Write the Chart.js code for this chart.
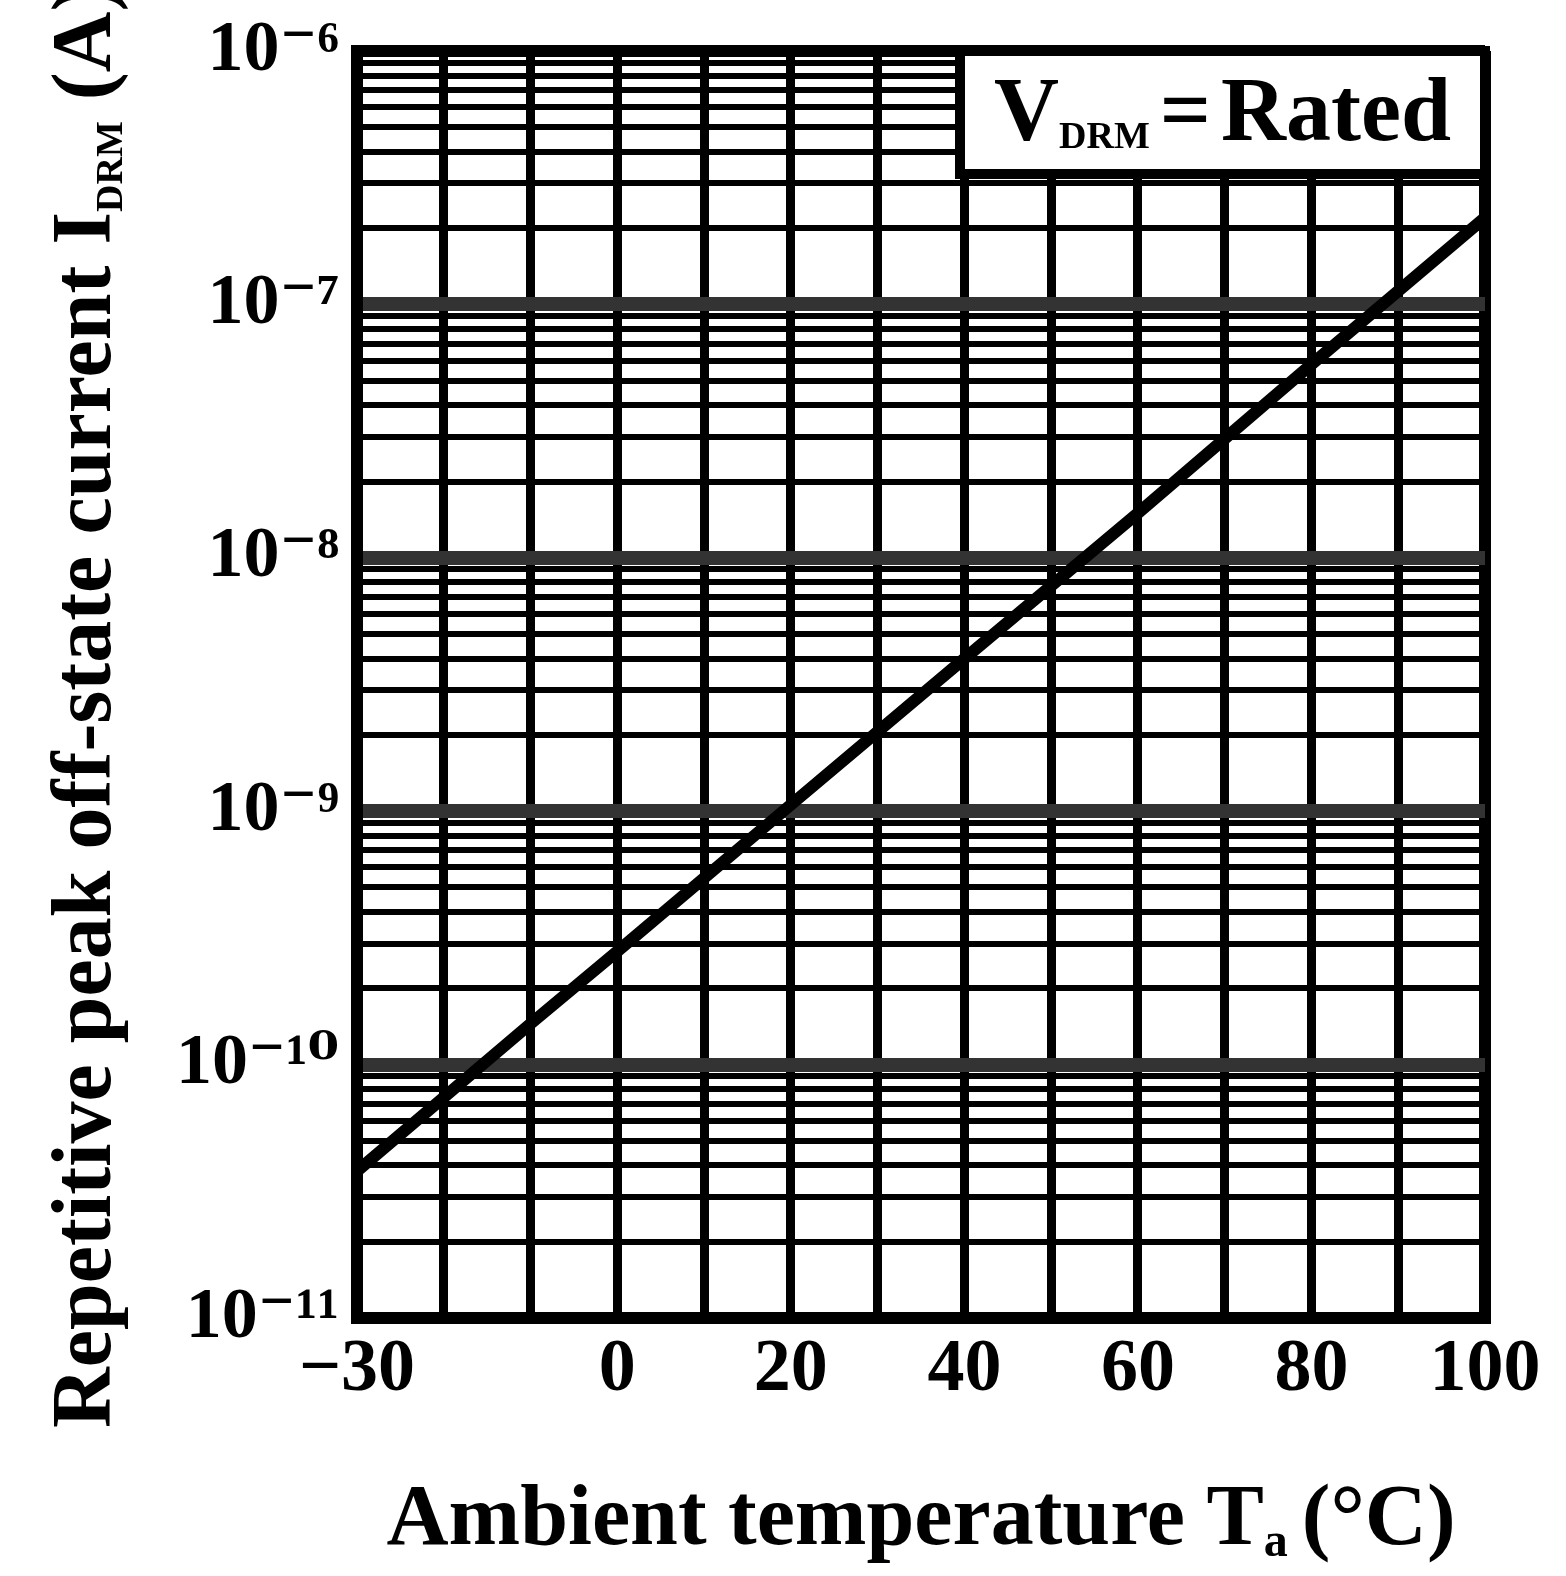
<!DOCTYPE html>
<html>
<head>
<meta charset="utf-8">
<script src="https://cdn.jsdelivr.net/npm/chart.js@4/dist/chart.umd.min.js"></script>
<style>
  html, body { margin: 0; padding: 0; background: #fff; }
  canvas { display: block; }
</style>
</head>
<body>
<canvas id="grafico" width="1566" height="1576"></canvas>
<script>
// Valores: temperatura ambiente (°C) y corriente I_DRM (A)
const temperaturas = [-30, -10, 0, 20, 40, 60, 80, 100];
const corrientes = [3.8e-11, 1.45e-10, 2.8e-10, 1.06e-9, 4.0e-9, 1.5e-8, 5.8e-8, 2.2e-7];

// Etiquetas de los ejes
const ticksX = [-30, 0, 20, 40, 60, 80, 100];
const etiquetasX = ['−30', '0', '20', '40', '60', '80', '100'];
const decadas = [-11, -10, -9, -8, -7, -6];
const etiquetasY = ['10⁻¹¹', '10⁻¹⁰', '10⁻⁹', '10⁻⁸', '10⁻⁷', '10⁻⁶'];
const subdivisiones = [2, 3, 4, 5, 6, 7, 8, 9];

const fuente = "'Liberation Serif', 'DejaVu Serif', serif";

// Dibuja un texto con partes de distinto tamaño (subindices)
function textoMixto(ctx, partes, x, y, alinear) {
  ctx.textBaseline = 'alphabetic';
  ctx.textAlign = 'left';
  let ancho = 0;
  partes.forEach(p => {
    ctx.font = 'bold ' + p.tam + 'px ' + fuente;
    p.ancho = ctx.measureText(p.t).width;
    ancho += p.ancho + (p.sep || 0);
  });
  let cx = alinear === 'center' ? x - ancho / 2 : x;
  partes.forEach(p => {
    ctx.font = 'bold ' + p.tam + 'px ' + fuente;
    ctx.fillText(p.t, cx, y + (p.dy || 0));
    cx += p.ancho + (p.sep || 0);
  });
}

const rotulos = {
  id: 'rotulos',
  afterDraw(chart) {
    const ctx = chart.ctx;
    const area = chart.chartArea;
    ctx.save();

    // Recuadro V_DRM = Rated
    const izq = 960, abajo = 174;
    ctx.fillStyle = '#fff';
    ctx.fillRect(izq, area.top, area.right - izq, abajo - area.top);
    ctx.strokeStyle = '#000';
    ctx.lineWidth = 10;
    ctx.strokeRect(izq, area.top, area.right - izq, abajo - area.top);
    ctx.fillStyle = '#000';
    textoMixto(ctx, [
      { t: 'V', tam: 90 },
      { t: 'DRM', tam: 38, dy: 8, sep: 10 },
      { t: '=', tam: 90, sep: 10 },
      { t: 'Rated', tam: 90 }
    ], (izq + area.right) / 2, 140, 'center');

    // Titulo eje X
    textoMixto(ctx, [
      { t: 'Ambient temperature T', tam: 86 },
      { t: 'a', tam: 48, dy: 12, sep: 14 },
      { t: '(°C)', tam: 86 }
    ], (area.left + area.right) / 2, 1544, 'center');

    // Titulo eje Y (rotado)
    ctx.translate(110, 1428);
    ctx.rotate(-Math.PI / 2);
    textoMixto(ctx, [
      { t: 'Repetitive peak off-state current I', tam: 84 },
      { t: 'DRM', tam: 38, dy: 12 },
      { t: ' (A)', tam: 84 }
    ], 0, 0, 'left');
    ctx.restore();
  }
};

const puntos = temperaturas.map((t, i) => ({ x: t, y: corrientes[i] }));

new Chart(document.getElementById('grafico'), {
  type: 'line',
  data: {
    datasets: [{
      data: puntos,
      borderColor: '#000',
      borderWidth: 12,
      pointRadius: 0,
      tension: 0,
      fill: false
    }]
  },
  options: {
    responsive: false,
    animation: false,
    layout: { padding: { top: 51, right: 81, left: 0, bottom: 0 } },
    plugins: { legend: { display: false }, tooltip: { enabled: false } },
    scales: {
      x: {
        type: 'linear',
        min: -30,
        max: 100,
        afterFit: (escala) => {
          escala.height = 1576 - 1318;
          escala.paddingLeft = 0;
          escala.paddingRight = 0;
        },
        ticks: {
          stepSize: 10,
          autoSkip: false,
          maxRotation: 0,
          padding: 8,
          color: '#000',
          font: { family: fuente, size: 74, weight: 'bold' },
          callback: (valor) => {
            const i = ticksX.indexOf(valor);
            return i >= 0 ? etiquetasX[i] : '';
          }
        },
        grid: {
          color: '#000',
          drawTicks: false,
          lineWidth: (c) => (c.tick && (c.tick.value === -30 || c.tick.value === 100)) ? 12 : 9
        },
        border: { color: '#000', width: 12 }
      },
      y: {
        type: 'logarithmic',
        min: 1e-11,
        max: 1e-6,
        afterFit: (escala) => {
          escala.width = 357;
          escala.paddingTop = 0;
          escala.paddingBottom = 0;
        },
        afterBuildTicks: (escala) => {
          const marcas = [];
          decadas.forEach((d, i) => {
            marcas.push({ value: Math.pow(10, d), major: true });
            if (i < decadas.length - 1) {
              subdivisiones.forEach(m => marcas.push({ value: m * Math.pow(10, d), major: false }));
            }
          });
          escala.ticks = marcas;
        },
        ticks: {
          autoSkip: false,
          padding: 18,
          color: '#000',
          font: { family: fuente, size: 72, weight: 'bold' },
          callback: (valor, i, marcas) => {
            if (!marcas[i].major) return '';
            const d = Math.round(Math.log10(valor));
            return etiquetasY[decadas.indexOf(d)];
          }
        },
        grid: {
          color: (c) => {
            if (!c.tick || !c.tick.major) return '#000';
            const d = Math.round(Math.log10(c.tick.value));
            return (d === -11 || d === -6) ? '#000' : '#333';
          },
          drawTicks: false,
          lineWidth: (c) => {
            if (!c.tick) return 6;
            const d = Math.round(Math.log10(c.tick.value));
            if (c.tick.major && (d === -11 || d === -6)) return 12;
            return c.tick.major ? 14 : 6;
          }
        },
        border: { color: '#000', width: 12 }
      }
    }
  },
  plugins: [rotulos]
});
</script>
</body>
</html>
